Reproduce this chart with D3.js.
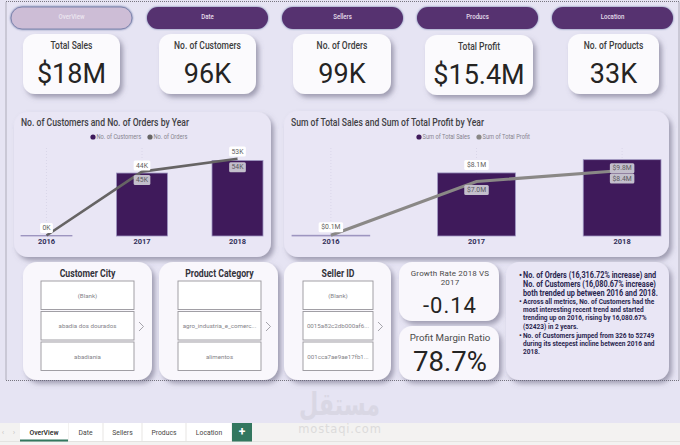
<!DOCTYPE html>
<html>
<head>
<meta charset="utf-8">
<script src="https://cdn.jsdelivr.net/npm/d3@7"></script>
<style>
  html, body { margin: 0; padding: 0; background: #e6e4f3; overflow: hidden; }
  svg { display: block; font-family: Roboto, sans-serif; }
</style>
</head>
<body>
<div id="chart"></div>
<script>
// data
let years = ["2016", "2017", "2018"];
let customers = [0.326, 44, 52.749];
let orders = [0.33, 45, 54];
let customerLabels = ["0K", "44K", "53K"];
let orderLabels = ["", "45K", "54K"];
let sales = [0.1, 8.1, 9.8];
let profit = [0.1, 7.0, 8.4];
let salesLabels = ["$0.1M", "$8.1M", "$9.8M"];
let profitLabels = ["", "$7.0M", "$8.4M"];

let navNames = ["OverView", "Date", "Sellers", "Producs", "Location"];
let kpiTitles = ["Total Sales", "No. of Customers", "No. of Orders", "Total Profit", "No. of Products"];
let kpiValues = ["$18M", "96K", "99K", "$15.4M", "33K"];
let slicerTitles = ["Customer City", "Product Category", "Seller ID"];
let slicerItems = [
  ["(Blank)", "abadia dos dourados", "abadiania"],
  ["", "agro_industria_e_comerc...", "alimentos"],
  ["(Blank)", "0015a82c2db000af6...", "001cca7ae9ae17fb1..."]
];
let tabNames = ["OverView", "Date", "Sellers", "Producs", "Location"];
let notes = [
  ["No. of Orders (16,316.72% increase) and", "No. of Customers (16,080.67% increase)", "both trended up between 2016 and 2018."],
  ["Across all metrics, No. of Customers had the", "most interesting recent trend and started", "trending up on 2016, rising by 16,080.67%", "(52423) in 2 years."],
  ["No. of Customers jumped from 326 to 52749", "during its steepest incline between 2016 and", "2018."]
];

let width = 680, height = 445;
let svg = d3.select("#chart").append("svg").attr("width", width).attr("height", height);

// shadows
let defs = svg.append("defs");
function shadow(id, dx, dy, blur, color, opacity) {
  defs.append("filter").attr("id", id)
    .attr("x", "-20%").attr("y", "-20%").attr("width", "140%").attr("height", "150%")
    .append("feDropShadow")
    .attr("dx", dx).attr("dy", dy).attr("stdDeviation", blur)
    .attr("flood-color", color).attr("flood-opacity", opacity);
}
shadow("cardShadow", 3, 3.5, 2.4, "#65627c", 0.55);
shadow("btnShadow", 0, 0, 1.2, "#4a5a92", 0.85);

function panel(x, y, w, h, r, fill) {
  return svg.append("rect")
    .attr("x", x).attr("y", y).attr("width", w).attr("height", h).attr("rx", r)
    .attr("fill", fill).attr("filter", "url(#cardShadow)");
}
function label(x, y, txt, size, color, weight) {
  return svg.append("text")
    .attr("x", x).attr("y", y).attr("text-anchor", "middle").attr("dominant-baseline", "central")
    .attr("font-size", size).attr("fill", color).attr("font-weight", weight || 400)
    .text(txt);
}
// the original font is a narrow DIN, so squeeze Roboto to about its width
function condense(sel, factor) {
  sel.attr("textLength", sel.node().getComputedTextLength() * factor)
    .attr("lengthAdjust", "spacingAndGlyphs");
  return sel;
}

// page border
svg.append("rect").attr("x", 6).attr("y", 1.5).attr("width", 673).attr("height", 379)
  .attr("fill", "none").attr("stroke", "#77757f").attr("stroke-width", 1).attr("stroke-dasharray", "1,1");

// nav buttons
let navX = [11, 147, 282, 417, 552];
navNames.forEach(function(name, i) {
  svg.append("rect")
    .attr("x", navX[i]).attr("y", 7).attr("width", 121).attr("height", 22).attr("rx", 11)
    .attr("fill", i == 0 ? "#cdbdd6" : "#563070")
    .attr("stroke", i == 0 ? "#7f86ae" : "none")
    .attr("filter", "url(#btnShadow)");
  condense(label(navX[i] + 60.5, 16.5, name, 7, i == 0 ? "#ece6f0" : "#e6dfec", 500), 0.87);
});

// KPI cards
let kpiX = [23, 159, 293, 425, 568];
let kpiW = [97, 97, 98, 108, 91];
let kpiY = [34, 34, 34, 35, 34];
kpiTitles.forEach(function(title, i) {
  panel(kpiX[i], kpiY[i], kpiW[i], 60, 12, "#fbfafd");
  let cx = kpiX[i] + kpiW[i] / 2;
  condense(label(cx, kpiY[i] + 11, title, 10, "#3c3c3c", 500), 0.85);
  label(cx, kpiY[i] + 40, kpiValues[i], 27, "#252423", 400);
});

// combo chart: bars + line, labels in small boxes
function comboChart(opt) {
  panel(opt.x, opt.y, opt.w, opt.h, 14, "#e9e6f5");

  condense(svg.append("text").attr("x", opt.x + 7).attr("y", 122)
    .attr("dominant-baseline", "central")
    .attr("font-size", 10).attr("font-weight", 500).attr("fill", "#3f3f44").text(opt.title), 0.86);

  let x = d3.scaleBand().domain(years).range(opt.xRange).paddingInner(0.466).paddingOuter(0);
  let y = d3.scaleLinear().domain([0, opt.yMax]).range([236, 148]);
  let g = svg.append("g");

  // faint vertical gridlines
  g.selectAll("line.grid").data(years).join("line")
    .attr("x1", function(d) { return x(d) + x.bandwidth() / 2; })
    .attr("x2", function(d) { return x(d) + x.bandwidth() / 2; })
    .attr("y1", y.range()[1]).attr("y2", y.range()[0])
    .attr("stroke", "#d6d2e6").attr("stroke-width", 0.8).attr("stroke-dasharray", "1,2");

  g.selectAll("rect").data(years).join("rect")
    .attr("x", function(d) { return x(d); })
    .attr("y", function(d, i) { return y(opt.bars[i]); })
    .attr("width", x.bandwidth())
    .attr("height", function(d, i) { return y(0) - y(opt.bars[i]); })
    .attr("fill", "#3f1a5b")
    .attr("stroke", "#9d95c0").attr("stroke-width", 0.8);

  let line = d3.line()
    .x(function(d, i) { return x(years[i]) + x.bandwidth() / 2; })
    .y(function(d) { return y(d); });
  g.append("path").attr("d", line(opt.line))
    .attr("fill", "none").attr("stroke", opt.lineColor).attr("stroke-width", opt.lineWidth);

  // bottom axis
  let axis = g.append("g").attr("transform", "translate(0,236)")
    .call(d3.axisBottom(x).tickSize(0).tickPadding(3));
  axis.select(".domain").remove();
  axis.selectAll("text")
    .attr("font-family", "Roboto, sans-serif").attr("font-size", 7.5).attr("font-weight", 700).attr("fill", "#33305a");

  // legend
  opt.legend.forEach(function(name, i) {
    g.append("circle").attr("cx", opt.legendX[i]).attr("cy", 137).attr("r", 2.6)
      .attr("fill", i == 0 ? "#3f1a5b" : opt.lineColor);
    condense(g.append("text").attr("x", opt.legendX[i] + 3.5).attr("y", 137).attr("dominant-baseline", "central")
      .attr("font-size", 6.8).attr("fill", "#85848e").text(name), 0.84);
  });

  // data labels
  function dataLabel(cx, cy, txt, fill, color) {
    let w = txt.length * 3.9 + 5;
    g.append("rect").attr("x", cx - w / 2).attr("y", cy - 5).attr("width", w).attr("height", 10).attr("rx", 1.5)
      .attr("fill", fill);
    g.append("text").attr("x", cx).attr("y", cy).attr("text-anchor", "middle").attr("dominant-baseline", "central")
      .attr("font-size", 6.8).attr("fill", color).text(txt);
  }
  years.forEach(function(d, i) {
    let cx = x(d) + x.bandwidth() / 2;
    dataLabel(cx, opt.barLabelY(y, i), opt.barLabels[i], opt.barLabelFill(i), "#605e5c");
    if (opt.lineLabels[i]) dataLabel(cx, opt.lineLabelY(y, i), opt.lineLabels[i], "#c3bfcc", "#5a5860");
  });
}

comboChart({
  x: 14, y: 112, w: 257, h: 145,
  title: "No. of Customers and No. of Orders by Year",
  xRange: [21, 263], yMax: 61.5,
  bars: customers, line: orders,
  barLabels: customerLabels, lineLabels: orderLabels,
  barLabelFill: function() { return "#ffffff"; },
  barLabelY: function(y, i) { return y(customers[i]) - (i == 2 ? 9 : 7.5); },
  lineLabelY: function(y, i) { return y(orders[i]) + 8.5; },
  lineColor: "#666464", lineWidth: 2.6,
  legend: ["No. of Customers", "No. of Orders"], legendX: [93, 150]
});
comboChart({
  x: 284, y: 111, w: 385, h: 146,
  title: "Sum of Total Sales and Sum of Total Profit by Year",
  xRange: [292, 661], yMax: 11.3,
  bars: sales, line: profit,
  barLabels: salesLabels, lineLabels: profitLabels,
  barLabelFill: function(i) { return i == 2 ? "#c3bfcc" : "#ffffff"; },
  barLabelY: function(y, i) { return i == 2 ? y(sales[i]) + 8.5 : y(sales[i]) - 8; },
  lineLabelY: function(y, i) { return i == 2 ? y(profit[i]) + 8 : y(profit[i]) + 8.5; },
  lineColor: "#8a8886", lineWidth: 3,
  legend: ["Sum of Total Sales", "Sum of Total Profit"], legendX: [419, 479]
});

// slicers
let slicerPanelX = [23, 159, 284];
let slicerPanelW = [129, 119, 107];
let slicerBoxX = [41, 178, 303];
let slicerBoxW = [93, 83, 70];
let slicerRowY = [281, 311.5, 342];
slicerTitles.forEach(function(title, i) {
  panel(slicerPanelX[i], 262, slicerPanelW[i], 118, 14, "#f9f7fc");
  let cx = slicerBoxX[i] + slicerBoxW[i] / 2;
  condense(label(cx, 273, title, 10, "#33323a", 700), 0.87);
  slicerItems[i].forEach(function(item, j) {
    svg.append("rect").attr("x", slicerBoxX[i]).attr("y", slicerRowY[j])
      .attr("width", slicerBoxW[i]).attr("height", 28.5)
      .attr("fill", "#ffffff").attr("stroke", "#98969c").attr("stroke-width", 0.9);
    label(cx, slicerRowY[j] + 14.5, item, 6.2, "#85848a", 400);
  });
  let chevX = slicerBoxX[i] + slicerBoxW[i] + 5;
  svg.append("path")
    .attr("d", d3.line()([[chevX, 322], [chevX + 4.5, 326.5], [chevX, 331]]))
    .attr("fill", "none").attr("stroke", "#8f8e96").attr("stroke-width", 0.8);
});

// ratio cards
panel(399, 262, 100, 59, 13, "#f9f7fc");
panel(399, 326, 100, 54, 13, "#f9f7fc");
label(450, 273, "Growth Rate 2018 VS", 8, "#4a4a4a", 400).attr("letter-spacing", 0.15);
label(450, 282, "2017", 8, "#4a4a4a", 400).attr("letter-spacing", 0.15);
label(450, 305, "-0.14", 22, "#252423", 400).attr("letter-spacing", 1);
label(450, 337, "Profit Margin Ratio", 9.7, "#4a4a4a", 400);
label(450, 361, "78.7%", 27.5, "#252423", 400);

// narrative text
panel(506, 262, 163, 118, 13, "#e9e6f5");
let noteY = [275, 301.7, 335];
let noteStep = [9, 8.1, 8.4];
let noteSize = [8.3, 7.7, 7.7];
let noteFactor = [0.88, 0.85, 0.85];
notes.forEach(function(note, i) {
  note.forEach(function(txt, j) {
    let ly = noteY[i] + j * noteStep[i];
    if (j == 0) {
      svg.append("text").attr("x", 519).attr("y", ly).attr("dominant-baseline", "central")
        .attr("font-size", noteSize[i]).attr("font-weight", 700).attr("fill", "#2b2650").text("•");
    }
    condense(svg.append("text").attr("x", 523).attr("y", ly).attr("dominant-baseline", "central")
      .attr("font-size", noteSize[i]).attr("font-weight", 700).attr("fill", "#2b2650").text(txt), noteFactor[i]);
  });
});

// tab bar
svg.append("rect").attr("x", 0).attr("y", 423).attr("width", width).attr("height", 22).attr("fill", "#f3f2f1");
svg.append("line").attr("x1", 0).attr("x2", width).attr("y1", 441.5).attr("y2", 441.5).attr("stroke", "#e4e3e1");
label(3, 432, "‹", 8, "#c8c6c4");
label(14, 432, "›", 8, "#c8c6c4");
let tabX = [20, 69, 104, 143, 187];
let tabW = [48, 33, 37, 42, 44];
tabNames.forEach(function(name, i) {
  svg.append("rect").attr("x", tabX[i]).attr("y", 423).attr("width", tabW[i]).attr("height", 18).attr("fill", "#ffffff");
  label(tabX[i] + tabW[i] / 2, 432.5, name, 6.8, i == 0 ? "#252423" : "#484644", i == 0 ? 500 : 400);
});
svg.append("rect").attr("x", 20).attr("y", 439.5).attr("width", 48).attr("height", 2).attr("fill", "#33775f");
svg.append("rect").attr("x", 232).attr("y", 423).attr("width", 20).attr("height", 18.5).attr("fill", "#33775f");
label(242, 431.5, "+", 12, "#ffffff", 700);

// watermark
svg.append("text").attr("x", 299).attr("y", 415)
  .attr("font-family", "DejaVu Sans").attr("font-weight", 700).attr("font-size", 31)
  .attr("textLength", 81).attr("lengthAdjust", "spacingAndGlyphs")
  .attr("fill", "#d9d7e4").text("مستقل");
svg.append("text").attr("x", 340).attr("y", 428.5).attr("text-anchor", "middle").attr("dominant-baseline", "central")
  .attr("font-family", "DejaVu Sans").attr("font-size", 11.5).attr("letter-spacing", 0.8)
  .attr("fill", "#dcdbdb").text("mostaqi.com");
</script>
</body>
</html>
